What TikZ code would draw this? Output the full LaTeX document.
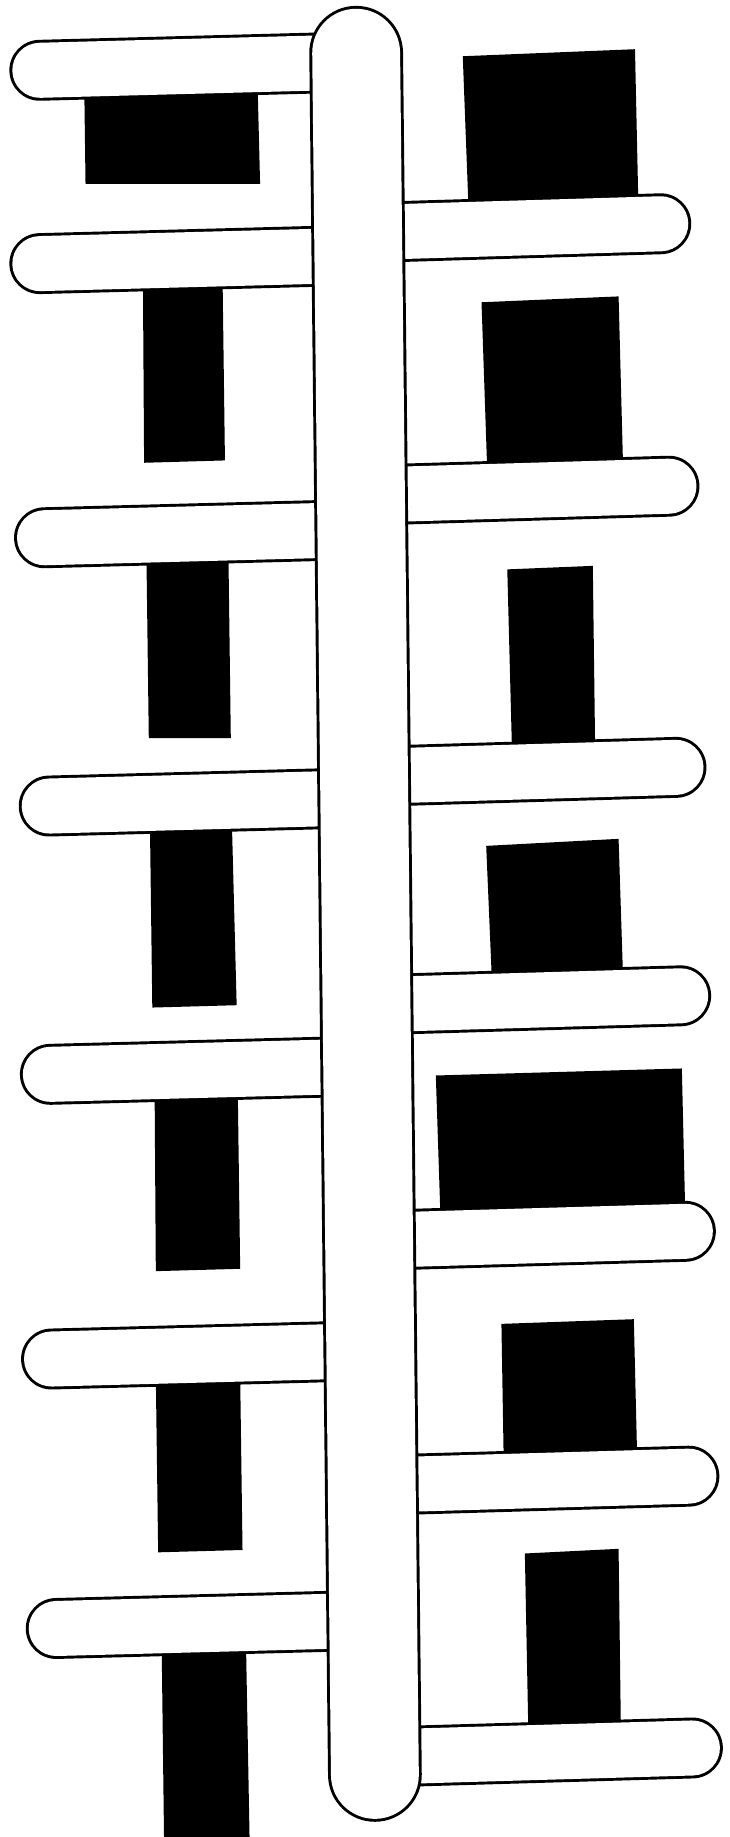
\documentclass[tikz,border=0pt]{standalone}
\begin{document}
\begin{tikzpicture}[x=1pt,y=-1pt,
  blk/.style={fill=black,draw=none},
  sidebar/.style={line width=2.5pt, double=white, double distance=47pt, line cap=round},
  spine/.style={line width=2.5pt, double=white, double distance=75pt, line cap=round}]
\useasboundingbox[fill=white] (0,0) rectangle (623,1568);
% left black blocks
\fill[blk] (72,80) -- (220,78) -- (222,157) -- (73,157) -- cycle;
\fill[blk] (122,240) -- (190,240) -- (192,393) -- (123,395) -- cycle;
\fill[blk] (125,475) -- (195,475) -- (197,630) -- (127,630) -- cycle;
\fill[blk] (128,705) -- (198,705) -- (202,858) -- (130,860) -- cycle;
\fill[blk] (132,935) -- (203,935) -- (205,1083) -- (133,1085) -- cycle;
\fill[blk] (133,1175) -- (205,1175) -- (207,1323) -- (135,1325) -- cycle;
\fill[blk] (138,1405) -- (210,1405) -- (213,1568) -- (140,1568) -- cycle;
% right black blocks
\fill[blk] (395,48) -- (542,42) -- (545,180) -- (400,180) -- cycle;
\fill[blk] (411,258) -- (528,253) -- (532,405) -- (416,405) -- cycle;
\fill[blk] (433,486) -- (506,483) -- (508,640) -- (437,640) -- cycle;
\fill[blk] (415,722) -- (528,716) -- (532,840) -- (420,840) -- cycle;
\fill[blk] (372,918) -- (582,912) -- (585,1040) -- (376,1040) -- cycle;
\fill[blk] (428,1130) -- (541,1126) -- (544,1250) -- (430,1250) -- cycle;
\fill[blk] (448,1326) -- (528,1322) -- (530,1480) -- (451,1480) -- cycle;
% left bars
\draw[sidebar] (34,60) -- (300,53);
\draw[sidebar] (34,225) -- (300,218);
\draw[sidebar] (38,459) -- (305,452);
\draw[sidebar] (42,688) -- (305,681);
\draw[sidebar] (43,917) -- (310,910);
\draw[sidebar] (44,1160) -- (310,1153);
\draw[sidebar] (48,1390) -- (315,1383);
% right bars
\draw[sidebar] (330,198) -- (564,191);
\draw[sidebar] (335,422) -- (571,415);
\draw[sidebar] (340,662) -- (577,655);
\draw[sidebar] (340,857) -- (581,850);
\draw[sidebar] (345,1058) -- (585,1051);
\draw[sidebar] (345,1267) -- (588,1260);
\draw[sidebar] (350,1499) -- (591,1492);
% central spine
\draw[spine] (304,45) -- (320,1515);
\end{tikzpicture}
\end{document}
